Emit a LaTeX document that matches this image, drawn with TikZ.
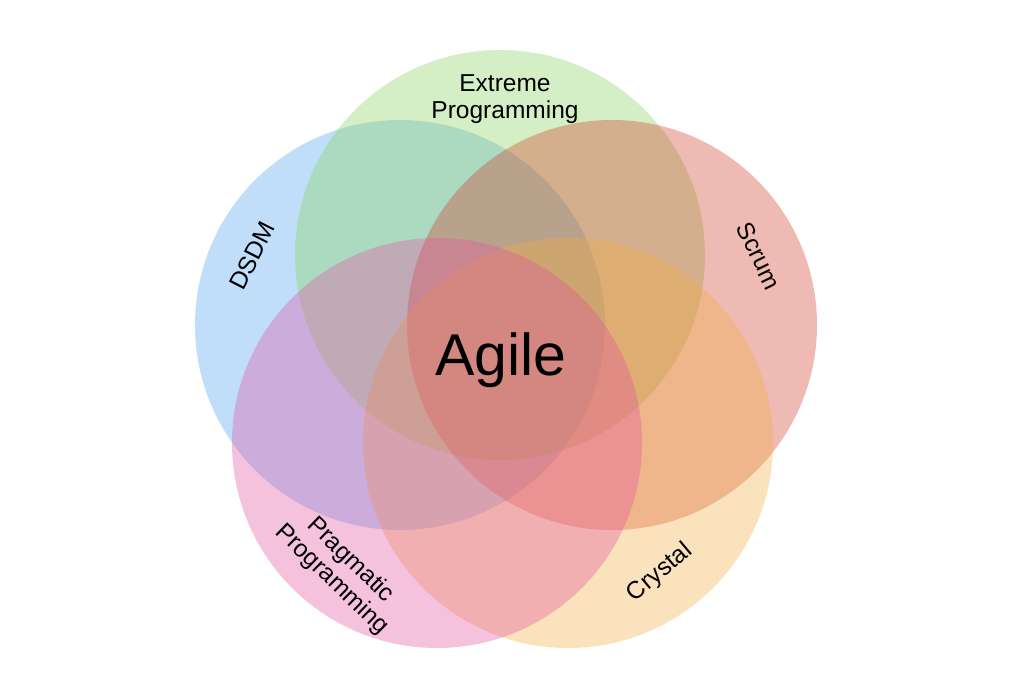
\documentclass[tikz,border=0pt]{standalone}
\usepackage{fontspec}
\setmainfont{Liberation Sans}
\definecolor{cblue}{RGB}{75,161,241}
\definecolor{cgreen}{RGB}{132,212,89}
\definecolor{cred}{RGB}{212,58,41}
\definecolor{corange}{RGB}{241,172,64}
\definecolor{cpink}{RGB}{229,81,161}
\tikzset{
  venn/.style={fill opacity=0.35, draw=none},
  lbl/.style={font=\fontsize{24.5}{27}\selectfont, align=center, inner sep=0pt, text=black},
}
\begin{document}
\begin{tikzpicture}[x=1pt,y=-1pt]
\useasboundingbox (0,0) rectangle (1024,693);
\fill[white] (0,0) rectangle (1024,693);
\fill[venn, cblue]   (400,325) circle (205);
\fill[venn, cgreen]  (500,255) circle (205);
\fill[venn, cred]    (612,325) circle (205);
\fill[venn, corange] (568,443) circle (205);
\fill[venn, cpink]   (437,443) circle (205);
\node[lbl] (xp) at (505,99) {Extreme\\Programming};
\node[lbl, rotate=63] (dsdm) at (252,256) {DSDM};
\node[lbl, rotate=-64] (scrum) at (759,256) {Scrum};
\node[lbl, rotate=-44] (prag) at (341,570) {Pragmatic\\Programming};
\node[lbl, rotate=40] (crystal) at (660,573) {Crystal};
\node[inner sep=0pt, font=\fontsize{59}{62}\selectfont] (agile) at (501,360) {Agile};
\end{tikzpicture}
\end{document}
